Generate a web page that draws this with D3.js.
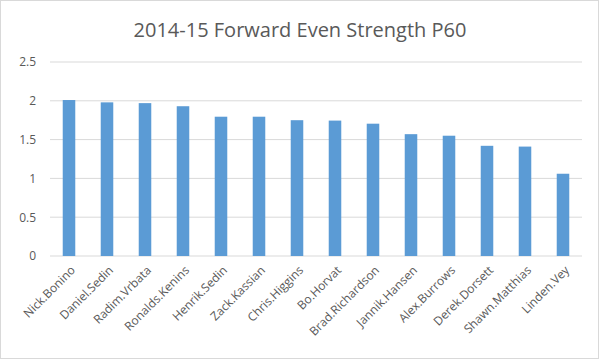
<!DOCTYPE html>
<html><head><meta charset="utf-8">
<script src="https://cdn.jsdelivr.net/npm/d3@7"></script>
<style>body{margin:0;background:#fff}svg{display:block}</style>
</head><body>
<script>
const players = ["Nick.Bonino","Daniel.Sedin","Radim.Vrbata","Ronalds.Kenins","Henrik.Sedin","Zack.Kassian","Chris.Higgins","Bo.Horvat","Brad.Richardson","Jannik.Hansen","Alex.Burrows","Derek.Dorsett","Shawn.Matthias","Linden.Vey"];
const p60 = [2.01,1.98,1.97,1.93,1.795,1.795,1.75,1.745,1.705,1.57,1.55,1.42,1.41,1.06];
const yTicks = [0,0.5,1,1.5,2,2.5];
const title = "2014-15 Forward Even Strength P60";

const W=600,H=361;
const svg=d3.select("body").append("svg").attr("width",W).attr("height",H);
svg.append("rect").attr("x",0.5).attr("y",0.5).attr("width",W-2).attr("height",H-3)
  .attr("fill","#fff").attr("stroke","#d9d9d9");
const font="Open Sans, Noto Sans, sans-serif";
const x=d3.scaleBand().domain(players).range([50,582]).paddingInner(0.67).paddingOuter(0.335);
const y=d3.scaleLinear().domain([0,2.5]).range([256,62]);

svg.append("g").selectAll("line").data(yTicks).join("line")
  .attr("x1",50).attr("x2",582).attr("y1",d=>y(d)).attr("y2",d=>y(d))
  .attr("stroke","#d9d9d9").attr("stroke-width",1);

const yAxis=svg.append("g").attr("transform","translate(50,0)")
  .call(d3.axisLeft(y).tickValues(yTicks).tickSize(0).tickPadding(14).tickFormat(d3.format("")));
yAxis.select(".domain").remove();
yAxis.selectAll("text").attr("fill","#595959").style("font-size","12px").style("font-family",font);

svg.append("g").selectAll("rect").data(players).join("rect")
  .attr("x",d=>x(d)).attr("width",x.bandwidth())
  .attr("y",(d,i)=>y(p60[i])).attr("height",(d,i)=>y(0)-y(p60[i]))
  .attr("fill","#5b9bd5");

const xAxis=svg.append("g").attr("transform","translate(0,256)")
  .call(d3.axisBottom(x).tickSize(0).tickPadding(0));
xAxis.select(".domain").remove();
xAxis.selectAll("text").attr("fill","#595959").style("font-size","12px").style("font-family",font)
  .attr("text-anchor","end").attr("dy","0.35em")
  .attr("transform",d=>`translate(4,12) rotate(-45)`).attr("y",0).attr("x",0);

svg.append("text").attr("x",W/2).attr("y",37).attr("text-anchor","middle")
  .attr("fill","#595959").style("font-size","20px").style("font-family",font).text(title);
</script>
</body></html>
